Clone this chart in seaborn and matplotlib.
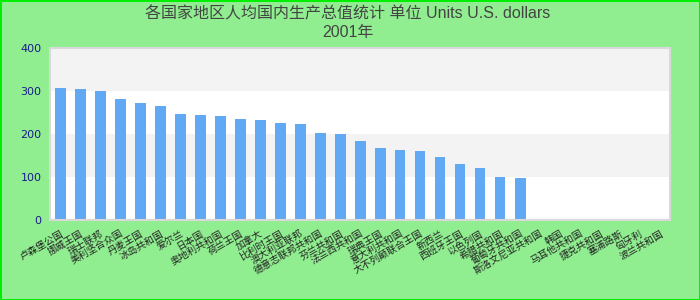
import matplotlib
matplotlib.use("Agg")
import matplotlib.pyplot as plt
import seaborn as sns
import numpy as np
import pandas as pd

title_text = "各国家地区人均国内生产总值统计 单位 Units U.S. dollars\n2001年"

categories = ["卢森堡公国", "挪威王国", "瑞士联邦", "美利坚合众国", "丹麦王国", "冰岛共和国",
              "爱尔兰", "日本国", "奥地利共和国", "荷兰王国", "加拿大", "比利时王国",
              "澳大利亚联邦", "德意志联邦共和国", "芬兰共和国", "法兰西共和国", "瑞典王国",
              "意大利共和国", "大不列颠联合王国", "新西兰", "西班牙王国", "以色列国",
              "希腊共和国", "葡萄牙共和国", "斯洛文尼亚共和国", "韩国", "马耳他共和国",
              "捷克共和国", "塞浦路斯", "匈牙利", "波兰共和国"]
values = [307, 305, 300, 281, 272, 265, 247, 244, 242, 235, 233, 226, 223, 202, 200,
          184, 167, 163, 160, 147, 130, 121, 100, 98,
          np.nan, np.nan, np.nan, np.nan, np.nan, np.nan, np.nan]
y_ticks = [0, 100, 200, 300, 400]

df = pd.DataFrame({"category": categories, "value": values})

sns.set_theme(style="white")
plt.rcParams['font.family'] = ['DejaVu Sans', 'Noto Sans CJK SC']

fig = plt.figure(figsize=(7, 3), dpi=100)
fig.patch.set_facecolor("#90ee90")
fig.patch.set_edgecolor("#00ee00")
fig.patch.set_linewidth(2)
ax = fig.add_axes([50/700, 80/300, 620/700, 172/300])
ax.set_facecolor("white")

# alternating bands
for i in range(len(y_ticks) - 1):
    if i % 2 == 1:
        ax.axhspan(y_ticks[i], y_ticks[i+1], color="#f3f3f3", zorder=0, lw=0)

sns.barplot(data=df, x="category", y="value", order=categories, color="#61a8f5",
            saturation=1, width=0.55, ax=ax, zorder=2, linewidth=0, edgecolor="none")

ax.set_xlim(-0.5, len(categories) - 0.5)
ax.set_ylim(0, 400)
ax.set_yticks(y_ticks)
ax.set_yticklabels([str(t) for t in y_ticks], color="#1a1a8c", fontsize=8,
                   family=['DejaVu Sans'])
ax.set_xticks(range(len(categories)))
ax.set_xticklabels(categories, rotation=30, ha="right", rotation_mode="anchor",
                   fontsize=7, color="#222222",
                   family=['Noto Sans CJK SC', 'DejaVu Sans'])
ax.tick_params(axis="both", length=0, pad=6)
ax.set_xlabel("")
ax.set_ylabel("")
for s in ax.spines.values():
    s.set_color("#d9d9d9")
    s.set_linewidth(1.5)

fig.text(0.497, 0.98, title_text, ha="center", va="top", fontsize=11.5,
         color="#444444", linespacing=1.3,
         family=['Liberation Sans', 'Noto Sans CJK SC'])

fig.savefig("out.png", dpi=100, facecolor=fig.get_facecolor(),
            edgecolor=fig.get_edgecolor())
